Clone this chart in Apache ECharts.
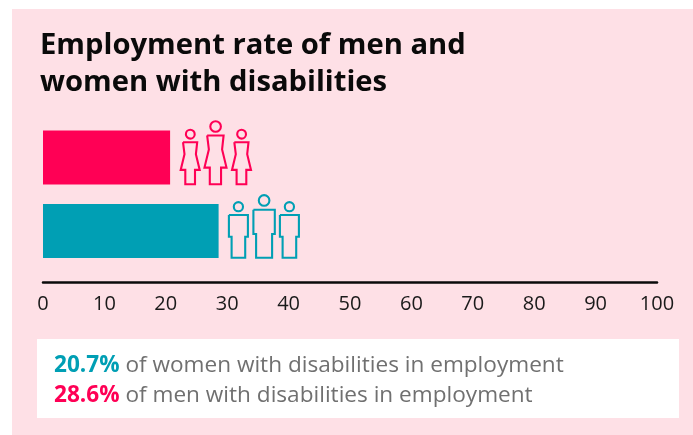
<!DOCTYPE html>
<html>
<head>
<meta charset="utf-8">
<style>html,body{margin:0;padding:0;background:#fff}#chart{width:693px;height:435px}</style>
<script src="https://cdn.jsdelivr.net/npm/echarts@6/dist/echarts.min.js"></script>
</head>
<body>
<div id="chart"></div>
<script>
const categories = ['Women', 'Men'];
const employmentRate = [20.7, 28.6];
const barColors = ['#ff0055', '#009fb4'];
const axisTicks = [0, 10, 20, 30, 40, 50, 60, 70, 80, 90, 100];
const titleLines = ['Employment rate of men and', 'women with disabilities'];
const noteLines = [
  ['20.7%', ' of women with disabilities in employment', 'teal'],
  ['28.6%', ' of men with disabilities in employment', 'pink']
];

const FONT = '"Open Sans", "Noto Sans", sans-serif';

// Outlined person pictogram; x is relative to the figure's centre, y to its feet.
function womanOutline(s) {
  return [[-7.3*s,-42*s],[6.9*s,-42*s],[5.6*s,-30*s],[9.4*s,-14.3*s],[4.7*s,-14.3*s],[4.7*s,0],[-5*s,0],[-5*s,-14.3*s],[-9.6*s,-14.3*s],[-5.8*s,-30*s],[-7.3*s,-42*s]];
}
function manOutline(w, h, legW, hip) {
  return [[-w,-h],[w,-h],[w,-hip],[legW,-hip],[legW,0],[-legW,0],[-legW,-hip],[-w,-hip],[-w,-h]];
}

// One group of three figures sits just past the end of each bar.
function renderFigures(params, api) {
  const i = params.dataIndex;
  const end = api.coord([api.value(0), i]);
  const color = barColors[i];
  const bottom = end[1] + 26.7;
  const style = { fill: 'none', stroke: color, lineWidth: 2.1 };
  const figures = i === 0
    ? [
        { dx: 20.2, pts: womanOutline(1), headY: -50, r: 4.4 },
        { dx: 45.5, pts: womanOutline(1.16), headY: -57.7, r: 5.3 },
        { dx: 71.5, pts: womanOutline(1), headY: -50, r: 4.4 }
      ]
    : [
        { dx: 19.8, pts: manOutline(9.5, 42.7, 6.8, 21), headY: -51, r: 4.6 },
        { dx: 45.5, pts: manOutline(10.7, 48, 8, 23.7), headY: -57.3, r: 5.3 },
        { dx: 70.8, pts: manOutline(9.5, 42.7, 6.8, 21), headY: -51, r: 4.6 }
      ];
  const children = [];
  figures.forEach(f => {
    children.push({
      type: 'polyline', x: end[0] + f.dx, y: bottom,
      shape: { points: f.pts }, style: style
    });
    children.push({
      type: 'circle', x: end[0] + f.dx, y: bottom,
      shape: { cx: 0, cy: f.headY, r: f.r }, style: style
    });
  });
  return { type: 'group', children: children };
}

const chart = echarts.init(document.getElementById('chart'), null, { renderer: 'canvas' });

chart.setOption({
  animation: false,
  backgroundColor: '#ffffff',
  graphic: [
    { type: 'rect', z: -10, silent: true, shape: { x: 12, y: 9, width: 681, height: 426 }, style: { fill: '#fee0e6' } },
    { type: 'rect', z: -9, silent: true, shape: { x: 37, y: 339, width: 642, height: 79 }, style: { fill: '#ffffff' } }
  ],
  title: [
    {
      text: titleLines.join('\n'),
      left: 40, top: 27, padding: 0,
      textStyle: { fontFamily: FONT, fontWeight: 700, fontSize: 29.2, lineHeight: 37, color: '#0a0a0a' }
    },
    {
      text: noteLines.map(n => '{' + n[2] + '|' + n[0] + '}{body|' + n[1] + '}').join('\n'),
      left: 54, top: 351, padding: 0,
      textStyle: {
        rich: {
          teal: { fontFamily: FONT, fontWeight: 700, fontSize: 22.6, lineHeight: 30, color: '#009fb4' },
          pink: { fontFamily: FONT, fontWeight: 700, fontSize: 22.6, lineHeight: 30, color: '#ff0055' },
          body: { fontFamily: FONT, fontWeight: 400, fontSize: 22.6, lineHeight: 30, color: '#707070' }
        }
      }
    }
  ],
  grid: { left: 43, width: 614, top: 120.75, height: 147 },
  xAxis: {
    type: 'value', min: axisTicks[0], max: axisTicks[axisTicks.length - 1], interval: 10,
    position: 'bottom', offset: 14,
    splitLine: { show: false },
    axisTick: { show: false },
    axisLine: { show: true, lineStyle: { color: '#0a0a0a', width: 2.5 } },
    axisLabel: { fontFamily: FONT, fontSize: 20, color: '#1a1a1a', margin: 12.5 }
  },
  yAxis: {
    type: 'category', inverse: true, data: categories,
    axisLine: { show: false }, axisTick: { show: false }, axisLabel: { show: false }
  },
  series: [
    {
      type: 'bar', barWidth: 54,
      data: employmentRate.map((v, i) => ({ value: v, itemStyle: { color: barColors[i] } }))
    },
    {
      type: 'custom', renderItem: renderFigures, silent: true,
      encode: { x: 0, y: 1 },
      data: employmentRate.map((v, i) => [v, i])
    }
  ]
});
</script>
</body>
</html>
